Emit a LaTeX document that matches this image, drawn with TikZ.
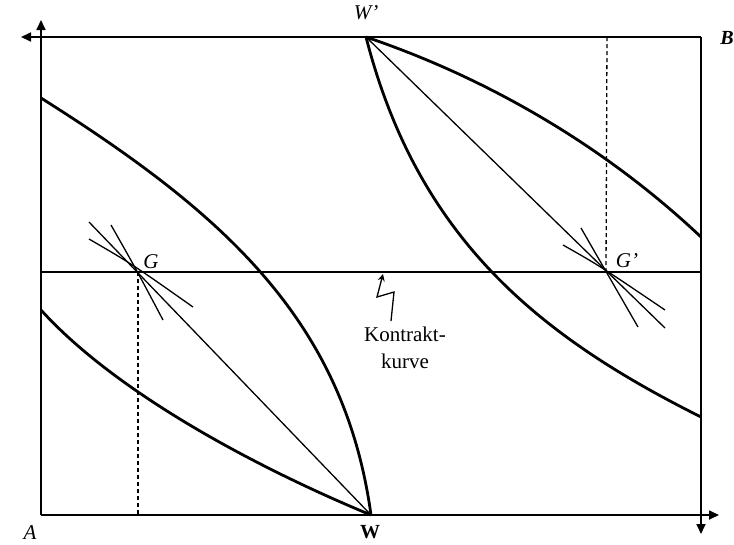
\documentclass[tikz,border=0pt]{standalone}
\usepackage{fontspec}
\setmainfont{Liberation Serif}
\usetikzlibrary{arrows.meta}
\begin{document}
\begin{tikzpicture}[x=1pt,y=-1pt,
  frame/.style={line width=1.7pt},
  axisarrow/.style={frame,-{Triangle[length=10pt,width=9pt]}},
  indiff/.style={line width=2.8pt},
  thinline/.style={line width=1.3pt},
  tangent/.style={line width=1.3pt},
  dashline/.style={line width=1.3pt,dash pattern=on 4pt off 3pt},
  lab/.style={font=\fontsize{21}{24}\selectfont\itshape,inner sep=0pt},
  labup/.style={font=\fontsize{20}{24}\selectfont\bfseries,inner sep=0pt}]
\useasboundingbox (0,0) rectangle (734,544);
% frame corners
\coordinate (TL) at (41,37);
\coordinate (TR) at (701,37);
\coordinate (BL) at (41,515);
\coordinate (BR) at (701,515);
\coordinate (TLx) at (21,37);
\coordinate (TLy) at (41,20);
\coordinate (BRx) at (719,515);
\coordinate (BRy) at (701,534);
\draw[axisarrow] (TR) -- (TLx);
\draw[axisarrow] (BL) -- (TLy);
\draw[axisarrow] (BL) -- (BRx);
\draw[axisarrow] (TR) -- (BRy);
% key points
\coordinate (W) at (371,515);
\coordinate (Wp) at (366,37);
\coordinate (G) at (138,272);
\coordinate (Gp) at (606,272);
% contract line
\coordinate (CL) at (41,272);
\coordinate (CR) at (701,272);
\draw[thinline] (CL) -- (CR);
% indifference curves
\coordinate (A1s) at (41,98);
\coordinate (A2s) at (41,310);
\coordinate (B1e) at (701,237);
\coordinate (B2e) at (701,417);
\draw[indiff] (A1s) .. controls (220,211) and (344,318) .. (W);
\draw[indiff] (A2s) .. controls (118,395) and (262,470) .. (W);
\draw[indiff] (Wp) .. controls (496,81) and (611,152) .. (B1e);
\draw[indiff] (Wp) .. controls (418,240) and (541,337) .. (B2e);
% straight rays
\coordinate (Gend) at (89,222);
\coordinate (Gpend) at (665,328);
\draw[thinline] (W) -- (Gend);
\draw[thinline] (Wp) -- (Gpend);
% tangent curves at G
\coordinate (Gf1) at (89,239);
\coordinate (Gf2) at (193,307);
\coordinate (Gs1) at (111,225);
\coordinate (Gs2) at (163,320);
\draw[tangent] (Gf1) .. controls (132,264) .. (Gf2);
\draw[tangent] (Gs1) .. controls (136,269) .. (Gs2);
% tangent curves at G'
\coordinate (Hf1) at (563,245);
\coordinate (Hf2) at (665,310);
\coordinate (Hs1) at (581,228);
\coordinate (Hs2) at (638,327);
\draw[tangent] (Hf1) .. controls (600,266) .. (Hf2);
\draw[tangent] (Hs1) .. controls (604,268) .. (Hs2);
% dashed verticals
\coordinate (Gfoot) at (138,515);
\coordinate (Gptop) at (607,37);
\draw[dashline] (G) -- (Gfoot);
\draw[dashline] (Gp) -- (Gptop);
% zigzag arrow
\coordinate (Zs) at (391,321);
\coordinate (Zt) at (383,274);
\draw[thinline,-{Stealth[length=7pt,width=7pt,open]}] (Zs) -- (394,292) -- (377,297) -- (Zt);
% labels
\node[lab] (lG) at (151,262) {G};
\node[lab] (lGp) at (627,261) {G'};
\node[lab] (lWp) at (366,13) {W'};
\node[labup] (lW) at (370,532) {W};
\node[lab] (lA) at (30,533) {A};
\node[lab,font=\fontsize{20}{24}\selectfont\bfseries\itshape] (lB) at (727,38) {B};
\node[font=\fontsize{21}{27}\selectfont,align=center,inner sep=0pt] (lK) at (405,348) {Kontrakt-\\kurve};
\end{tikzpicture}
\end{document}
